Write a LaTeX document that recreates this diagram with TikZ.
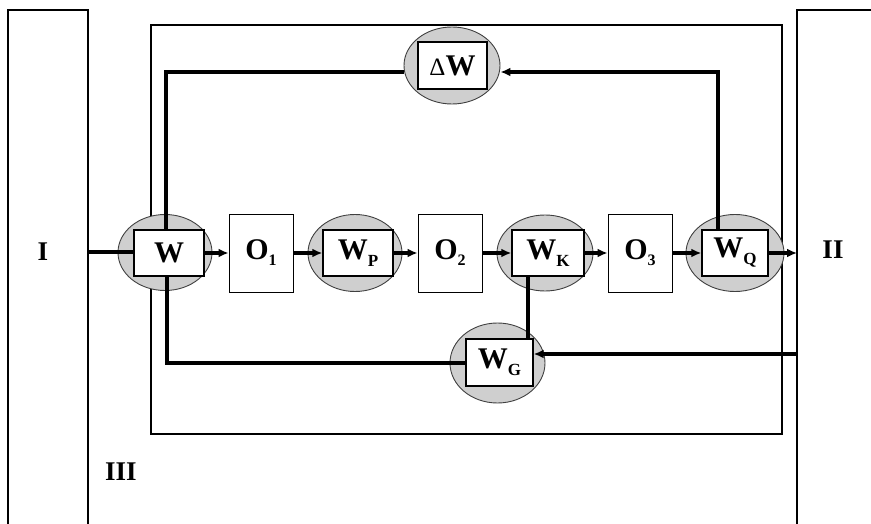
\documentclass[tikz,border=0pt]{standalone}
\usepackage{fontspec}
\setmainfont{Liberation Serif}
\usetikzlibrary{shapes.geometric,arrows.meta}
\newcommand\lowsub[1]{\raisebox{-7pt}{\fontsize{17}{17}\selectfont\bfseries #1}}
\newcommand\lownum[1]{\raisebox{-6pt}{\fontsize{16}{16}\selectfont #1}}
\tikzset{
  halo/.style={ellipse, draw=black!75, line width=0.9pt, fill=gray!38, inner sep=0pt},
  blk/.style={rectangle, draw, line width=1.4pt, fill=white, inner sep=0pt,
    font=\fontsize{30}{32}\selectfont\bfseries},
  opbox/.style={rectangle, draw, line width=0.9pt, fill=white, inner sep=0pt,
    minimum width=64pt, minimum height=78pt, font=\fontsize{30}{32}\selectfont\bfseries},
  frame/.style={line width=1.2pt},
  conn/.style={line width=3.2pt},
  arr/.style={conn, -{Latex[length=10pt,width=9pt]}},
  lbl/.style={font=\fontsize{27}{29}\selectfont\bfseries, inner sep=0pt}
}
\begin{document}
\begin{tikzpicture}[x=1pt,y=-1pt]
\useasboundingbox (0,0) rectangle (871,524);
% frames
\draw[frame] (8,524) -- (8,10) -- (88,10) -- (88,524);
\draw[frame] (797,524) -- (797,10) -- (871,10);
\draw[frame] (151,25) rectangle (782,434);
% labels
\node[lbl] (lI) at (43,252) {I};
\node[lbl] (lII) at (833,250) {II};
\node[lbl] (lIII) at (121,472) {III};
% halos
\node[halo, minimum width=96pt, minimum height=77pt] (dWe) at (452,65.5) {};
\node[halo, minimum width=94pt, minimum height=76pt] (We) at (165,252.5) {};
\node[halo, minimum width=94pt, minimum height=77pt] (Wpe) at (355,253) {};
\node[halo, minimum width=96pt, minimum height=76pt] (Wke) at (545,253) {};
\node[halo, minimum width=98pt, minimum height=77pt] (Wqe) at (735,253) {};
\node[halo, minimum width=95pt, minimum height=80pt] (Wge) at (497.5,363) {};
% boxes
\node[blk, minimum width=69pt, minimum height=47pt] (dWb) at (452.5,65.5) {{\fontsize{25}{25}\selectfont\mdseries Δ}W};
\node[blk, minimum width=70pt, minimum height=46pt] (Wb) at (169,253) {W};
\node[blk, minimum width=70pt, minimum height=46pt] (Wpb) at (358,253) {W\lowsub{P}};
\node[blk, minimum width=72pt, minimum height=46pt] (Wkb) at (548,253) {W\lowsub{K}};
\node[blk, minimum width=66pt, minimum height=46pt] (Wqb) at (735,253) {W\lowsub{Q}};
\node[blk, minimum width=67pt, minimum height=47pt] (Wgb) at (499.5,362.5) {W\lowsub{G}};
\node[opbox] (O1) at (261,253) {O\lownum{1}};
\node[opbox] (O2) at (450,253) {O\lownum{2}};
\node[opbox] (O3) at (640,253) {O\lownum{3}};
% coordinates
\coordinate (inL) at (88,252);
\coordinate (outR) at (797,253);
\coordinate (fbL) at (166,72);
\coordinate (fbR) at (718,72);
\coordinate (kg) at (528,300);
\coordinate (rin) at (797,354);
\coordinate (bl) at (167,363);
% connectors
\draw[conn] (inL) -- (Wb.west |- inL);
\draw[arr] (Wb.east) -- (O1.west);
\draw[arr] (O1.east) -- (Wpb.west);
\draw[arr] (Wpb.east) -- (O2.west);
\draw[arr] (O2.east) -- (Wkb.west);
\draw[arr] (Wkb.east) -- (O3.west);
\draw[arr] (O3.east) -- (Wqb.west);
\draw[arr] (Wqb.east) -- (outR);
\draw[conn] (Wb.north -| fbL) -- (fbL) -- (dWe.west |- fbL);
\draw[arr] (Wqb.north -| fbR) -- (fbR) -- (dWe.east |- fbR);
\draw[conn] (Wkb.south -| kg) -- (Wgb.north -| kg);
\draw[arr] (rin) -- (Wgb.east |- rin);
\draw[conn] (Wgb.west |- bl) -- (bl) -- (Wb.south -| bl);
\end{tikzpicture}
\end{document}
